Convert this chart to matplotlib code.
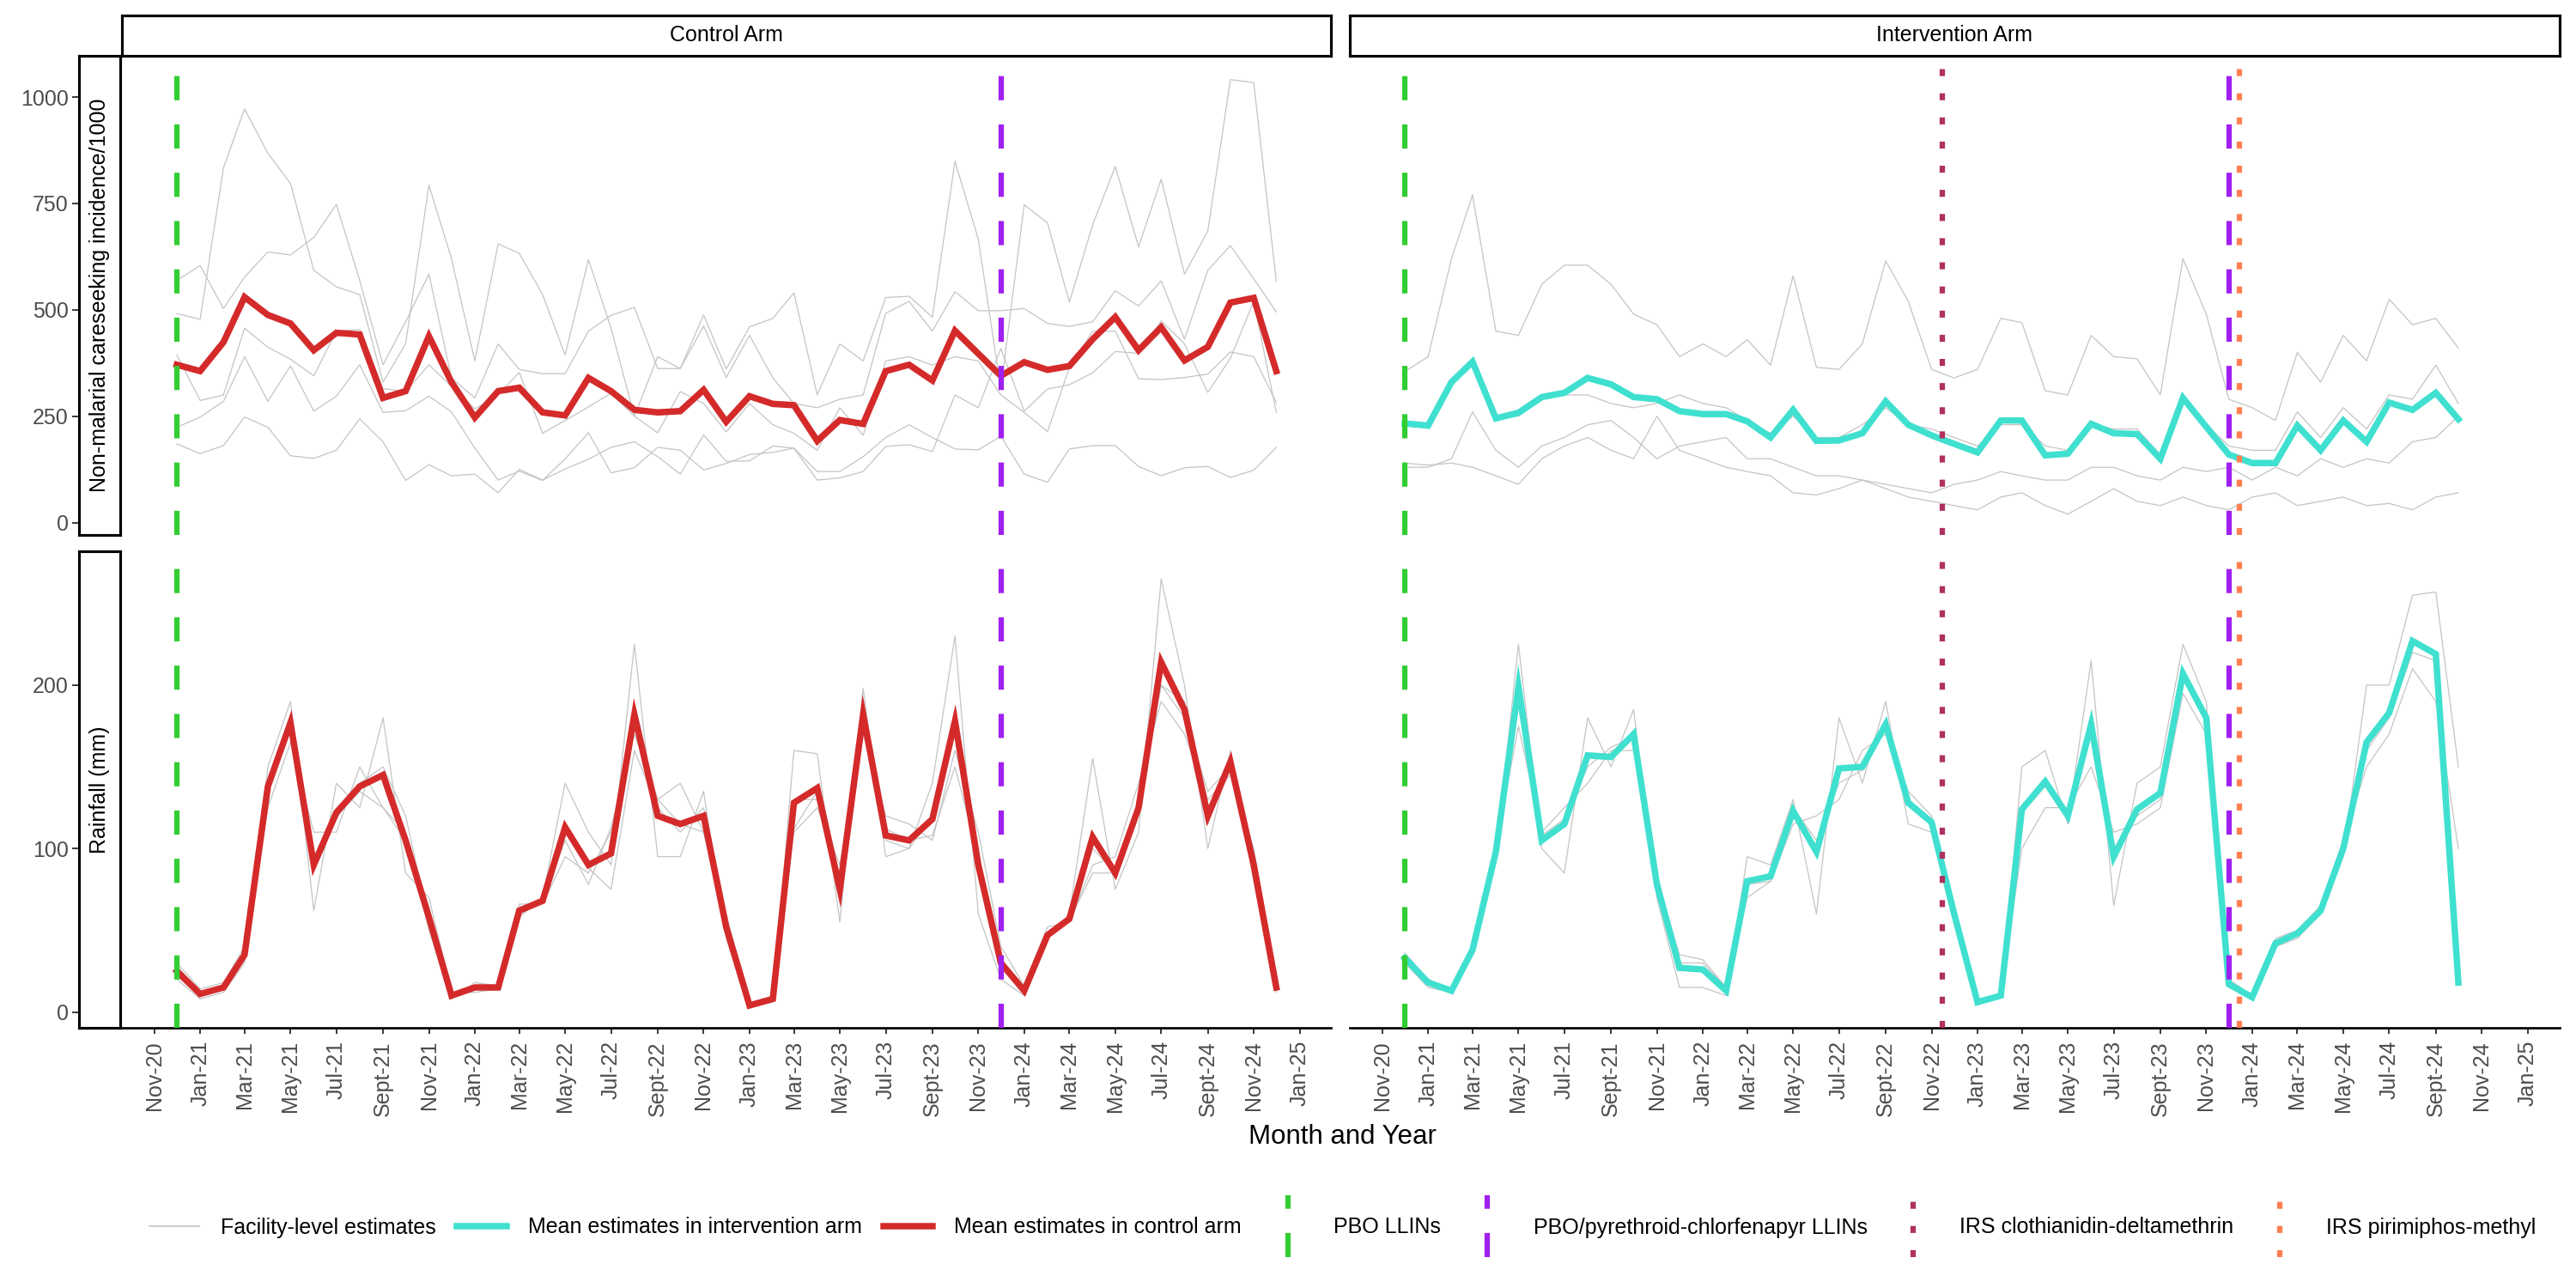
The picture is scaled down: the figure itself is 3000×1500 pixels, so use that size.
import numpy as np
import pandas as pd
import matplotlib
matplotlib.use('Agg')
import matplotlib.pyplot as plt
import matplotlib.dates as mdates
from matplotlib.lines import Line2D
from matplotlib.legend_handler import HandlerBase

plt.rcParams['font.family'] = ['Liberation Sans', 'DejaVu Sans']

# control arm: Dec 2020 - Dec 2024, intervention arm: Dec 2020 - Oct 2024
ctrl_months = pd.date_range('2020-12-01', '2024-12-01', freq='MS')
int_months = pd.date_range('2020-12-01', '2024-10-01', freq='MS')

# non-malarial careseeking incidence / 1000, control arm
ctrl_inc_mean = [371, 356, 424, 530, 488, 468, 405, 446, 442, 293, 309, 438, 330, 247, 309, 317, 259, 252, 340, 309,
                 265, 259, 262, 312, 237, 297, 279, 276, 192, 241, 232, 356, 371, 334, 451, 397, 345, 377, 359, 368,
                 431, 483, 405, 459, 381, 413, 517, 528, 356]
ctrl_inc_fac = [
    [491, 478, 834, 972, 868, 797, 593, 554, 536, 330, 420, 793, 620, 380, 655, 633, 536, 394, 618, 457,
     250, 390, 362, 488, 361, 460, 480, 540, 300, 420, 380, 529, 532, 483, 849, 666, 315, 747, 704, 518,
     700, 837, 648, 807, 584, 685, 1041, 1034, 567],
    [569, 604, 503, 577, 636, 629, 670, 748, 569, 371, 472, 584, 340, 293, 420, 360, 350, 350, 450, 487,
     506, 362, 362, 462, 341, 440, 340, 280, 270, 290, 300, 492, 520, 450, 543, 498, 498, 503, 468, 461,
     472, 545, 509, 568, 431, 593, 651, 573, 495],
    [394, 287, 300, 457, 412, 384, 345, 450, 454, 315, 308, 371, 320, 267, 300, 353, 210, 240, 272, 304,
     250, 211, 308, 280, 213, 280, 230, 210, 170, 270, 205, 380, 390, 370, 390, 380, 300, 259, 214, 364,
     450, 450, 338, 336, 341, 349, 401, 390, 282],
    [224, 248, 285, 390, 285, 368, 262, 297, 371, 259, 263, 297, 260, 175, 100, 121, 99, 150, 211, 117,
     129, 177, 170, 124, 139, 160, 165, 175, 120, 120, 155, 200, 230, 200, 173, 171, 203, 114, 95, 173,
     181, 181, 132, 110, 129, 132, 106, 123, 177],
    [185, 162, 181, 248, 224, 157, 151, 170, 244, 190, 99, 136, 110, 114, 70, 125, 100, 126, 149, 177,
     190, 155, 114, 206, 144, 145, 180, 175, 100, 105, 120, 179, 183, 167, 300, 270, 409, 262, 314, 324,
     352, 402, 398, 474, 420, 306, 386, 520, 259],
]

# non-malarial careseeking incidence / 1000, intervention arm
int_inc_mean = [233, 228, 330, 378, 245, 258, 295, 305, 340, 325, 295, 290, 262, 255, 255, 238, 200, 265, 192, 193,
                210, 285, 230, 205, 185, 165, 240, 240, 158, 162, 232, 210, 208, 150, 293, 225, 160, 140, 140, 228,
                170, 240, 190, 282, 265, 305, 243]
int_inc_fac = [
    [355, 390, 620, 770, 450, 440, 560, 605, 605, 560, 490, 465, 390, 420, 390, 430, 370, 580, 365, 360,
     420, 615, 520, 360, 340, 360, 480, 470, 310, 300, 440, 390, 385, 300, 620, 490, 290, 270, 240, 400,
     330, 440, 380, 525, 465, 480, 410],
    [230, 230, 330, 380, 250, 250, 290, 300, 300, 280, 270, 280, 300, 280, 270, 240, 210, 250, 200, 200,
     230, 270, 230, 220, 200, 180, 230, 230, 180, 170, 230, 220, 220, 160, 290, 230, 180, 170, 170, 260,
     200, 270, 220, 300, 290, 370, 280],
    [140, 135, 140, 130, 110, 90, 150, 180, 200, 170, 150, 250, 170, 150, 130, 120, 110, 70, 65, 80,
     100, 80, 60, 50, 40, 30, 60, 70, 40, 20, 50, 80, 50, 40, 60, 40, 30, 60, 70, 40,
     50, 60, 40, 45, 30, 60, 70],
    [130, 130, 150, 260, 170, 130, 180, 200, 230, 240, 200, 150, 180, 190, 200, 150, 150, 130, 110, 110,
     100, 90, 80, 70, 90, 100, 120, 110, 100, 100, 130, 130, 110, 100, 130, 120, 130, 100, 130, 110,
     150, 130, 150, 140, 190, 200, 250],
]

# rainfall (mm), control arm
ctrl_rain_mean = [25, 11, 15, 35, 138, 177, 90, 122, 138, 145, 105, 58, 10, 15, 15, 62, 68, 113, 90, 97,
                  182, 120, 115, 120, 52, 4, 8, 128, 137, 75, 182, 108, 105, 118, 178, 90, 30, 13, 47, 57,
                  107, 85, 125, 214, 185, 120, 153, 90, 15]
ctrl_rain_fac = [
    [20, 8, 12, 30, 150, 190, 62, 140, 125, 180, 85, 70, 12, 12, 14, 58, 70, 140, 110, 90,
     225, 95, 95, 135, 45, 3, 6, 160, 158, 55, 198, 95, 100, 140, 230, 60, 20, 10, 45, 60,
     155, 75, 110, 265, 200, 100, 160, 80, 12],
    [30, 14, 18, 40, 125, 165, 110, 110, 150, 125, 110, 50, 8, 18, 16, 66, 66, 95, 85, 110,
     175, 130, 140, 110, 60, 5, 9, 110, 125, 90, 170, 120, 115, 105, 160, 110, 40, 16, 52, 55,
     90, 95, 140, 190, 170, 130, 145, 100, 18],
    [22, 10, 14, 32, 140, 175, 95, 118, 140, 150, 120, 55, 10, 15, 14, 60, 68, 115, 88, 75,
     160, 125, 110, 125, 55, 4, 8, 130, 130, 80, 180, 105, 100, 120, 170, 95, 30, 12, 45, 58,
     100, 85, 125, 200, 190, 115, 155, 95, 14],
    [28, 12, 16, 38, 135, 180, 92, 120, 135, 125, 105, 57, 10, 16, 16, 64, 68, 105, 78, 113,
     170, 130, 115, 110, 50, 4, 9, 112, 135, 75, 180, 112, 105, 108, 150, 95, 30, 14, 46, 56,
     85, 85, 125, 200, 180, 135, 150, 85, 16],
]

# rainfall (mm), intervention arm
int_rain_mean = [33, 18, 13, 38, 98, 199, 105, 115, 157, 156, 170, 78, 27, 26, 13, 80, 83, 123, 98, 149,
                 150, 176, 128, 116, 60, 6, 10, 124, 141, 120, 176, 95, 124, 134, 207, 180, 17, 9, 42, 48,
                 62, 100, 165, 183, 227, 219, 18]
int_rain_fac = [
    [30, 15, 12, 35, 95, 225, 100, 85, 180, 150, 185, 70, 15, 15, 10, 95, 90, 130, 60, 180,
     140, 190, 115, 110, 55, 5, 9, 150, 160, 115, 215, 65, 140, 150, 225, 190, 15, 8, 40, 45,
     60, 95, 200, 200, 255, 257, 150],
    [36, 20, 14, 40, 100, 175, 110, 125, 140, 160, 160, 85, 30, 30, 15, 70, 80, 115, 120, 130,
     160, 170, 135, 120, 65, 7, 11, 100, 125, 125, 150, 110, 115, 125, 195, 170, 20, 10, 45, 50,
     65, 105, 150, 170, 210, 190, 100],
    [34, 19, 14, 39, 100, 190, 108, 118, 150, 162, 168, 80, 35, 32, 15, 78, 80, 125, 105, 140,
     148, 175, 130, 118, 58, 6, 10, 122, 138, 118, 170, 100, 120, 130, 205, 178, 16, 9, 42, 47,
     63, 98, 160, 180, 220, 215, 20],
]

# intervention dates
vl_pbo = '2020-12-01'
vl_chlorfenapyr = '2023-12-01'
vl_clothianidin = '2022-11-15'
vl_pirimiphos = '2023-12-15'

tick_dates = pd.date_range('2020-11-01', '2025-01-01', freq='2MS')
month_abbr = {1: 'Jan', 3: 'Mar', 5: 'May', 7: 'Jul', 9: 'Sept', 11: 'Nov'}
tick_labels = [month_abbr[d.month] + '-' + d.strftime('%y') for d in tick_dates]

GREY = '#C4C4C4'
RED = '#D42A2A'
CYAN = '#40E0D0'
GREEN = '#32CD32'
PURPLE = '#A020F0'
MAROON = '#B03060'
CORAL = '#FF7F50'
DASH = (4.5, 4.5)
DOT = (1.3, 3.2)


class VKey(Line2D):
    pass


class HandlerVLine(HandlerBase):
    def create_artists(self, legend, orig_handle, xdescent, ydescent, width, height, fontsize, trans):
        x = width / 2 - xdescent
        yc = height / 2 - ydescent
        half = 17.3
        line = Line2D([x, x], [yc - half, yc + half])
        line.update_from(orig_handle)
        line.set_transform(trans)
        return [line]


def vline(ax, date, color, dashes):
    ax.axvline(pd.Timestamp(date), color=color, linewidth=3, dashes=dashes,
               solid_capstyle='butt', dash_capstyle='butt', zorder=5)


def strip(fig, rect, text, rotation=0):
    sax = fig.add_axes(rect)
    sax.set_xticks([])
    sax.set_yticks([])
    for s in sax.spines.values():
        s.set_linewidth(1.5)
        s.set_color('black')
    sax.text(0.5, 0.5, text, ha='center', va='center', rotation=rotation, fontsize=12,
             transform=sax.transAxes)
    return sax


fig = plt.figure(figsize=(20, 10), dpi=150)

px = [0.0473, 0.524]
pw = 0.4695
py = [0.585, 0.202]
ph = [0.372, 0.370]

panels = [
    [(ctrl_months, ctrl_inc_mean, ctrl_inc_fac, RED), (int_months, int_inc_mean, int_inc_fac, CYAN)],
    [(ctrl_months, ctrl_rain_mean, ctrl_rain_fac, RED), (int_months, int_rain_mean, int_rain_fac, CYAN)],
]
ylims = [(-28, 1098), (-9.7, 281.9)]
yticks = [[0, 250, 500, 750, 1000], [0, 100, 200]]
row_labels = ['Non-malarial careseeking incidence/1000', 'Rainfall (mm)']
col_labels = ['Control Arm', 'Intervention Arm']

x0 = mdates.date2num(ctrl_months[0])
x1 = mdates.date2num(ctrl_months[-1])
pad = 0.05 * (x1 - x0)

for r in range(2):
    for c in range(2):
        ax = fig.add_axes([px[c], py[r], pw, ph[r]])
        dates, mean_vals, fac_vals, col = panels[r][c]
        for f in fac_vals:
            ax.plot(dates, f, color=GREY, linewidth=0.6, zorder=2)
        ax.plot(dates, mean_vals, color=col, linewidth=3.6, zorder=3, solid_joinstyle='miter')

        vline(ax, vl_pbo, GREEN, DASH)
        if c == 1:
            vline(ax, vl_clothianidin, MAROON, DOT)
        vline(ax, vl_chlorfenapyr, PURPLE, DASH)
        if c == 1:
            vline(ax, vl_pirimiphos, CORAL, DOT)

        ax.set_xlim(x0 - pad, x1 + pad)
        ax.set_ylim(*ylims[r])
        ax.set_yticks(yticks[r])
        ax.set_xticks(tick_dates)
        for s in ['top', 'right', 'left']:
            ax.spines[s].set_visible(False)
        ax.spines['left'].set_position(('outward', 24.2))
        ax.tick_params(colors='#333333', labelcolor='#4D4D4D', labelsize=12, length=3.2, width=0.9)
        ax.tick_params(axis='y', pad=2.5)
        if r == 1:
            ax.spines['bottom'].set_linewidth(1.3)
            ax.set_xticklabels(tick_labels, rotation=90)
            ax.tick_params(axis='x', pad=4)
        else:
            ax.spines['bottom'].set_visible(False)
            ax.tick_params(axis='x', bottom=False, labelbottom=False)
        if c == 1:
            ax.tick_params(axis='y', left=False, labelleft=False)
        ax.patch.set_alpha(0)

        if r == 0:
            strip(fig, [px[c], 0.957, pw, 0.031], col_labels[c])
        if c == 0:
            strip(fig, [0.0305, py[r], 0.0162, ph[r]], row_labels[r], rotation=90)

fig.text(0.5212, 0.117, 'Month and Year', ha='center', va='center', fontsize=15)

handles = [
    Line2D([], [], color=GREY, linewidth=0.8),
    Line2D([], [], color=CYAN, linewidth=3.6),
    Line2D([], [], color=RED, linewidth=3.6),
    VKey([], [], color=GREEN, linewidth=3, dashes=DASH, dash_capstyle='butt'),
    VKey([], [], color=PURPLE, linewidth=3, dashes=DASH, dash_capstyle='butt'),
    VKey([], [], color=MAROON, linewidth=3, dashes=DOT, dash_capstyle='butt'),
    VKey([], [], color=CORAL, linewidth=3, dashes=DOT, dash_capstyle='butt'),
]
labels = ['Facility-level estimates', 'Mean estimates in intervention arm', 'Mean estimates in control arm',
          'PBO LLINs', 'PBO/pyrethroid-chlorfenapyr LLINs', 'IRS clothianidin-deltamethrin',
          'IRS pirimiphos-methyl']
fig.legend(handles, labels, loc='center', bbox_to_anchor=(0.5212, 0.047), ncol=7, frameon=False,
           fontsize=12, handlelength=2.3, handletextpad=1.0, columnspacing=1.0,
           handler_map={VKey: HandlerVLine()})

fig.savefig('out.png', dpi=150)
